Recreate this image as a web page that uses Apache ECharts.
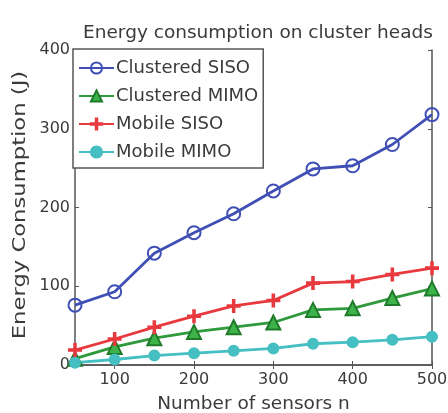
<!DOCTYPE html>
<html>
<head>
<meta charset="utf-8">
<script src="https://cdn.jsdelivr.net/npm/echarts@6/dist/echarts.min.js"></script>
<style>
  html, body { margin: 0; padding: 0; background: #fff; }
  #chart { width: 448px; height: 413px; }
</style>
</head>
<body>
<div id="chart"></div>
<script>
// Number of sensors per network
const sensors = [50, 100, 150, 200, 250, 300, 350, 400, 450, 500];
// Energy consumed on cluster heads (J)
const clusteredSISO = [76, 93, 142, 168, 192, 221, 249, 253, 280, 318];
const clusteredMIMO = [8, 23, 34, 42, 48, 54, 70, 72, 85, 97];
const mobileSISO = [19, 33, 48, 62, 75, 82, 104, 106, 115, 123];
const mobileMIMO = [3, 7, 12, 15, 18, 21, 27, 29, 32, 36];
const xTicks = [100, 200, 300, 400, 500];

const FONT = 'DejaVu Sans, sans-serif';
const TEXT = '#3a3a3a';
const AXIS = '#555';
const plus = 'path://M-1,-0.13 L1,-0.13 L1,0.13 L-1,0.13 Z M-0.13,-1 L0.13,-1 L0.13,1 L-0.13,1 Z';

function pairs(vals) { return sensors.map((n, i) => [n, vals[i]]); }

function series(name, vals, color, symbol, size, fill, border) {
  return {
    name, type: 'line', data: pairs(vals), xAxisIndex: 0, yAxisIndex: 0,
    symbol, symbolSize: size,
    lineStyle: { color, width: 2.8 },
    itemStyle: { color: fill, borderColor: border, borderWidth: 2 },
    emphasis: { disabled: true }
  };
}

const frameAxis = { show: true, lineStyle: { color: AXIS, width: 1.5 } };
const tick = { show: true, inside: true, length: 4, lineStyle: { color: AXIS } };

const chart = echarts.init(document.getElementById('chart'));
chart.setOption({
  animation: false,
  backgroundColor: '#fff',
  title: {
    text: 'Energy consumption on cluster heads',
    left: 253, top: 19, textAlign: 'center',
    textStyle: { fontFamily: FONT, fontSize: 18.5, fontWeight: 'normal', color: TEXT }
  },
  // y-axis title, stretched along its length
  graphic: [{
    type: 'text', x: 20, y: 205, rotation: Math.PI / 2, scaleX: 1.26,
    style: {
      text: 'Energy Consumption (J)', fill: TEXT,
      font: '18px DejaVu Sans, sans-serif', align: 'center', verticalAlign: 'middle'
    }
  }],
  grid: { left: 75, right: 16, top: 50, bottom: 48, show: false, outerBoundsMode: 'none' },
  legend: {
    orient: 'vertical', left: 73, top: 49,
    backgroundColor: '#fff', borderColor: AXIS, borderWidth: 1.5,
    padding: [9, 5, 6, 5], itemGap: 8, itemWidth: 35, itemHeight: 14,
    textStyle: { fontFamily: FONT, fontSize: 18, lineHeight: 20, color: TEXT, padding: [0, 0, 0, -3] }
  },
  xAxis: [{
    type: 'value', min: 50, max: 500,
    name: 'Number of sensors n', nameLocation: 'middle', nameGap: 30,
    nameTextStyle: { fontFamily: FONT, fontSize: 18.5, color: TEXT },
    axisLine: frameAxis,
    axisTick: Object.assign({ customValues: xTicks }, tick),
    axisLabel: { customValues: xTicks, fontFamily: FONT, fontSize: 16, color: TEXT, margin: 7 },
    splitLine: { show: false }
  }, {
    type: 'value', min: 50, max: 500, position: 'top',
    axisLine: frameAxis,
    axisTick: Object.assign({ customValues: xTicks }, tick),
    axisLabel: { show: false }, splitLine: { show: false }
  }],
  yAxis: [{
    type: 'value', min: 0, max: 400, interval: 100,
    axisLine: frameAxis,
    axisTick: tick,
    axisLabel: { fontFamily: FONT, fontSize: 16, color: TEXT, margin: 5 },
    splitLine: { show: false }
  }, {
    type: 'value', min: 0, max: 400, interval: 100, position: 'right',
    axisLine: frameAxis,
    axisTick: tick,
    axisLabel: { show: false }, splitLine: { show: false }
  }],
  series: [
    series('Clustered SISO', clusteredSISO, '#3f4fb5', 'circle', 13, 'rgba(255,255,255,0)', '#3f4fb5'),
    series('Clustered MIMO', clusteredMIMO, '#2f9a3c', 'triangle', 14, '#3db34a', '#1f7a2a'),
    series('Mobile SISO', mobileSISO, '#e8393f', plus, 12, '#e8393f', '#e8393f'),
    series('Mobile MIMO', mobileMIMO, '#46bfc2', 'circle', 10, '#46bfc2', '#46bfc2')
  ]
});
</script>
</body>
</html>
